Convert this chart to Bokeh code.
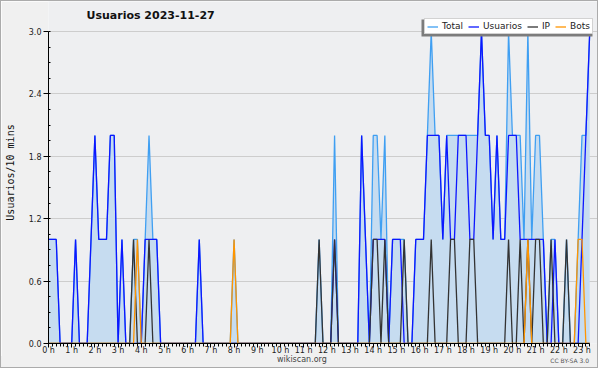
from bokeh.plotting import figure
from bokeh.models import (FixedTicker, Legend, LegendItem, Label, BoxAnnotation,
                          Range1d, Div)
from bokeh.layouts import column
from bokeh.embed import file_html
from bokeh.resources import INLINE

# values every 10 minutes
usuarios = [1, 1, 1, 0, 0, 0, 0, 1, 0, 0, 0, 1,
            2, 1, 1, 1, 2, 2, 0, 1, 0, 0, 0, 0,
            0, 1, 1, 1, 1, 0, 0, 0, 0, 0, 0, 0,
            0, 0, 0, 1, 0, 0, 0, 0, 0, 0, 0, 0,
            0, 0, 0, 0, 0, 0, 0, 0, 0, 0, 0, 0,
            0, 0, 0, 0, 0, 0, 0, 0, 0, 0, 0, 0,
            0, 0, 1, 0, 0, 0, 0, 0, 0, 2, 1, 0,
            1, 1, 1, 1, 0, 1, 1, 1, 0, 0, 0, 1,
            1, 1, 2, 2, 2, 2, 1, 2, 1, 1, 2, 2,
            2, 1, 1, 2, 3, 2, 2, 1, 2, 1, 1, 2,
            2, 2, 1, 1, 1, 1, 1, 1, 1, 0, 0, 1,
            0, 0, 0, 0, 0, 0, 1, 2, 3]

ip = [0, 0, 0, 0, 0, 0, 0, 0, 0, 0, 0, 0,
      0, 0, 0, 0, 0, 0, 0, 0, 0, 0, 1, 0,
      0, 0, 1, 0, 0, 0, 0, 0, 0, 0, 0, 0,
      0, 0, 0, 0, 0, 0, 0, 0, 0, 0, 0, 0,
      0, 0, 0, 0, 0, 0, 0, 0, 0, 0, 0, 0,
      0, 0, 0, 0, 0, 0, 0, 0, 0, 0, 1, 0,
      0, 0, 1, 0, 0, 0, 0, 0, 0, 0, 0, 0,
      1, 1, 0, 1, 0, 0, 0, 0, 1, 0, 0, 0,
      0, 0, 0, 1, 0, 0, 0, 0, 1, 1, 0, 0,
      0, 1, 1, 0, 0, 0, 0, 0, 0, 0, 0, 1,
      0, 0, 1, 0, 1, 0, 1, 1, 0, 0, 1, 0,
      0, 0, 1, 0, 0, 0, 0, 0, 0]

bots = [0, 0, 0, 0, 0, 0, 0, 0, 0, 0, 0, 0,
        0, 0, 0, 0, 0, 0, 0, 0, 0, 0, 0, 1,
        0, 0, 0, 0, 0, 0, 0, 0, 0, 0, 0, 0,
        0, 0, 0, 0, 0, 0, 0, 0, 0, 0, 0, 0,
        1, 0, 0, 0, 0, 0, 0, 0, 0, 0, 0, 0,
        0, 0, 0, 0, 0, 0, 0, 0, 0, 0, 0, 0,
        0, 0, 0, 0, 0, 0, 0, 0, 0, 0, 0, 0,
        0, 0, 0, 0, 0, 0, 0, 0, 0, 0, 0, 0,
        0, 0, 0, 0, 0, 0, 0, 0, 0, 0, 0, 0,
        0, 0, 0, 0, 0, 0, 0, 0, 0, 0, 0, 0,
        0, 0, 0, 0, 1, 0, 0, 0, 0, 0, 0, 0,
        0, 0, 0, 0, 0, 1, 1, 0, 0]

total = [1, 1, 1, 0, 0, 0, 0, 1, 0, 0, 0, 1,
         2, 1, 1, 1, 2, 2, 0, 1, 0, 0, 1, 1,
         0, 1, 2, 1, 1, 0, 0, 0, 0, 0, 0, 0,
         0, 0, 0, 1, 0, 0, 0, 0, 0, 0, 0, 0,
         1, 0, 0, 0, 0, 0, 0, 0, 0, 0, 0, 0,
         0, 0, 0, 0, 0, 0, 0, 0, 0, 0, 1, 0,
         0, 0, 2, 0, 0, 0, 0, 0, 0, 2, 1, 0,
         2, 2, 1, 2, 0, 1, 1, 1, 1, 0, 0, 1,
         1, 1, 2, 3, 2, 2, 1, 2, 2, 2, 2, 2,
         2, 2, 2, 2, 3, 2, 2, 1, 2, 1, 1, 3,
         2, 2, 2, 1, 3, 1, 2, 2, 1, 0, 1, 1,
         0, 0, 1, 0, 0, 1, 2, 2, 3]

hour_ticks = [0, 1, 2, 3, 4, 5, 6, 7, 8, 9, 10, 11,
              12, 13, 14, 15, 16, 17, 18, 19, 20, 21, 22, 23]
hour_labels = ["0 h", "1 h", "2 h", "3 h", "4 h", "5 h", "6 h", "7 h",
               "8 h", "9 h", "10 h", "11 h", "12 h", "13 h", "14 h", "15 h",
               "16 h", "17 h", "18 h", "19 h", "20 h", "21 h", "22 h", "23 h"]
y_ticks = [0, 0.6, 1.2, 1.8, 2.4, 3.0]
y_labels = ["0.0", "0.6", "1.2", "1.8", "2.4", "3.0"]

title_text = "Usuarios  2023-11-27"
y_title = "Usuarios/10 mins"
site_text = "wikiscan.org"
licence_text = "CC BY-SA 3.0"

n = len(total)
x = [i / 6 for i in range(n)]

FONT = "DejaVu Sans"
BORDER = "1px solid #ababab"

# layout (pixels in the canvas)
W, H = 598, 356
LEFT, BOTTOM = 45, 13
FRAME_W, FRAME_H = W - LEFT, H - BOTTOM
DATA_W, DATA_H = 543.2, 313.0
x_end = x[-1] * FRAME_W / DATA_W
y_end = 3.0 * FRAME_H / DATA_H

p = figure(width=W, height=H, output_backend="svg", toolbar_location=None,
           x_range=Range1d(0, x_end), y_range=Range1d(0, y_end),
           min_border_left=LEFT, min_border_right=0, min_border_top=0,
           min_border_bottom=BOTTOM, title=None,
           background_fill_color="#eeeff1", border_fill_color="#f0f0f0")
p.styles = {"border": BORDER, "border-bottom": "none"}
p.outline_line_color = None

p.varea(x=x, y1=[0] * n, y2=total, fill_color="#c6dcf0", fill_alpha=1)
r_total = p.line(x, total, line_color="#3f9ff2", line_width=1.3)
r_usr = p.line(x, usuarios, line_color="#0c16ff", line_width=1.3)
r_ip = p.line(x, ip, line_color="#333333", line_width=1.3)
r_bots = p.line(x, bots, line_color="#ff9500", line_width=1.3)

# axes
p.xaxis.ticker = FixedTicker(ticks=hour_ticks, minor_ticks=x)
p.xaxis.major_label_overrides = dict(zip(hour_ticks, hour_labels))
p.xaxis.bounds = (0, x[-1])
p.yaxis.ticker = FixedTicker(ticks=y_ticks,
                             minor_ticks=[k * 0.15 for k in range(21)])
p.yaxis.major_label_overrides = dict(zip(y_ticks, y_labels))
p.yaxis.bounds = (0, 3.0)
for ax in (p.xaxis, p.yaxis):
    ax.axis_line_color = "black"
    ax.major_tick_line_color = "black"
    ax.minor_tick_line_color = "black"
    ax.major_label_text_font = FONT
    ax.major_label_text_font_size = "8px"
    ax.major_label_text_color = "#222222"
p.xaxis.major_tick_in = 0
p.xaxis.major_tick_out = 4
p.xaxis.minor_tick_in = 0
p.xaxis.minor_tick_out = 3
p.xaxis.major_label_standoff = -2
p.yaxis.major_tick_in = 0
p.yaxis.major_tick_out = 5
p.yaxis.minor_tick_in = 2
p.yaxis.minor_tick_out = 0
p.yaxis.major_label_standoff = 2
p.yaxis.axis_label = y_title
p.yaxis.axis_label_text_font = "DejaVu Sans Mono"
p.yaxis.axis_label_text_font_size = "10px"
p.yaxis.axis_label_text_font_style = "normal"
p.yaxis.axis_label_text_color = "#111111"
p.yaxis.axis_label_standoff = 10

p.xgrid.visible = False
p.ygrid.ticker = FixedTicker(ticks=y_ticks)
p.ygrid.grid_line_color = "#cdcdcd"

# title
p.add_layout(Label(x=38, y=328, x_units="screen", y_units="screen",
                   text=title_text, text_font=FONT, text_font_style="bold",
                   text_font_size="11px", text_baseline="middle",
                   text_color="#111111"))

# legend with shadow (shadow offset 3 px left and down)
p.add_layout(BoxAnnotation(left=373, right=544, top=324, bottom=307,
                           left_units="screen", right_units="screen",
                           top_units="screen", bottom_units="screen",
                           fill_color="#7c7c7c", fill_alpha=1,
                           line_color=None, level="annotation"))
legend = Legend(items=[LegendItem(label="Total", renderers=[r_total]),
                       LegendItem(label="Usuarios", renderers=[r_usr]),
                       LegendItem(label="IP", renderers=[r_ip]),
                       LegendItem(label="Bots", renderers=[r_bots])],
                location=(376, 309), orientation="horizontal",
                label_text_font=FONT, label_text_font_size="9px",
                label_text_color="#222222",
                glyph_width=11, glyph_height=9, label_height=9, label_width=0,
                label_standoff=4, spacing=5, padding=2, margin=0,
                border_line_color="#a5a5a5", background_fill_color="white",
                background_fill_alpha=1)
p.add_layout(legend)

# footer line
footer_html = (
    '<div style="position:relative;width:598px;height:12px;'
    "font-family:'DejaVu Sans';\">"
    '<span style="position:absolute;left:276px;top:-1px;font-size:8px;'
    'line-height:10px;color:#444444;white-space:nowrap;">'
    + site_text + '</span>'
    '<span style="position:absolute;right:10px;top:1px;font-size:6px;'
    'line-height:8px;color:#555555;white-space:nowrap;">'
    + licence_text + '</span></div>')
footer = Div(text=footer_html, width=W, height=12,
             styles={"border": BORDER, "border-top": "none",
                     "background-color": "#f0f0f0", "overflow": "visible",
                     "margin": "0", "padding": "0"})

layout = column(p, footer, spacing=0)
open("out.html", "w").write(file_html(layout, INLINE))
